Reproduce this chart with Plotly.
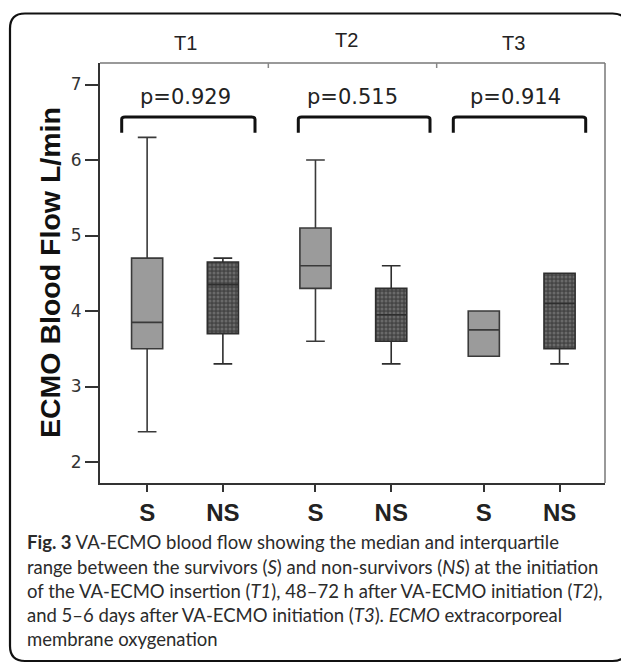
import plotly.graph_objects as go

# ---------------- data ----------------
time_points = ["T1", "T2", "T3"]
groups = ["S", "NS"]
p_values = ["p=0.929", "p=0.515", "p=0.914"]

# survivors (S)
s_low = [2.4, 3.6, 3.4]
s_q1 = [3.5, 4.3, 3.4]
s_median = [3.85, 4.6, 3.75]
s_q3 = [4.7, 5.1, 4.0]
s_high = [6.3, 6.0, 4.0]

# non-survivors (NS)
ns_low = [3.3, 3.3, 3.3]
ns_q1 = [3.7, 3.6, 3.5]
ns_median = [4.35, 3.95, 4.1]
ns_q3 = [4.65, 4.3, 4.5]
ns_high = [4.7, 4.6, 4.5]

y_ticks = [2, 3, 4, 5, 6, 7]

caption_lines = [
    "<b>Fig. 3</b> VA-ECMO blood flow showing the median and interquartile",
    "range between the survivors (<i>S</i>) and non-survivors (<i>NS</i>) at the initiation",
    "of the VA-ECMO insertion (<i>T1</i>), 48–72 h after VA-ECMO initiation (<i>T2</i>),",
    "and 5–6 days after VA-ECMO initiation (<i>T3</i>). <i>ECMO</i> extracorporeal",
    "membrane oxygenation",
]

# ---------------- layout constants ----------------
PAGE_OFF = 8                             # default body margin of the html page
W, H = 629 - PAGE_OFF, 664 - PAGE_OFF
L, R, T, B = 100, 605, 63, 483          # plot area in page pixels
YMIN, YMAX = 1.722, 7.285
S_OFF, NS_OFF = 0.28, 0.73              # position inside each cluster
BOX_W = 0.185


def px_x(px):
    return (px - L) / (R - L)


def px_y(py):
    return (B - py) / (B - T)


s_pos = [i + S_OFF for i in range(len(time_points))]
ns_pos = [i + NS_OFF for i in range(len(time_points))]

fig = go.Figure()

# patterned fill for NS boxes (drawn beneath the box outlines)
fig.add_trace(go.Bar(
    x=ns_pos,
    y=[h - l for h, l in zip(ns_q3, ns_q1)],
    base=ns_q1,
    width=BOX_W,
    marker=dict(color="#4a4a4a",
                pattern=dict(shape=".", fgcolor="#8f8f8f", bgcolor="#454545",
                             size=4, solidity=0.45),
                line=dict(width=0)),
    showlegend=False, hoverinfo="skip",
))

fig.add_trace(go.Box(
    x=s_pos, q1=s_q1, median=s_median, q3=s_q3,
    lowerfence=s_low, upperfence=s_high,
    width=BOX_W, whiskerwidth=0.6,
    fillcolor="#9b9b9b", line=dict(color="#3a3a3a", width=1.6),
    boxpoints=False, showlegend=False, name="S",
))
fig.add_trace(go.Box(
    x=ns_pos, q1=ns_q1, median=ns_median, q3=ns_q3,
    lowerfence=ns_low, upperfence=ns_high,
    width=BOX_W, whiskerwidth=0.6,
    fillcolor="rgba(0,0,0,0)", line=dict(color="#2e2e2e", width=1.6),
    boxpoints=False, showlegend=False, name="NS",
))

shapes = []
annotations = []

# brackets over each time point (hand-placed spans, in pixels)
bracket_px = [(121.7, 255.0), (298.3, 430.0), (453.3, 585.7)]
b_top, b_end = 6.57, 6.36
for (a, b) in bracket_px:
    xa, xb = px_x(a) * 3, px_x(b) * 3
    shapes.append(dict(
        type="path", xref="x", yref="y",
        path=f"M {xa},{b_end} L {xa},{b_top - 0.03} Q {xa},{b_top} {xa + 0.02},{b_top} "
             f"L {xb - 0.02},{b_top} Q {xb},{b_top} {xb},{b_top - 0.03} L {xb},{b_end}",
        line=dict(color="#111111", width=3),
    ))

# p-value labels
p_x_px = [185, 352, 515]
for txt, xp in zip(p_values, p_x_px):
    annotations.append(dict(
        x=px_x(xp), y=px_y(97), xref="paper", yref="paper",
        text=txt, showarrow=False, xanchor="center", yanchor="middle",
        font=dict(family="DejaVu Sans", size=21, color="#222222"),
    ))

# time point labels above the plot
t_px = [(185, 43), (346, 40), (513, 43)]
for txt, (xp, yp) in zip(time_points, t_px):
    annotations.append(dict(
        x=px_x(xp), y=px_y(yp), xref="paper", yref="paper",
        text=txt, showarrow=False, xanchor="center", yanchor="middle",
        font=dict(family="Liberation Sans, Arial", size=20, color="#222222"),
    ))

# y axis title
annotations.append(dict(
    x=px_x(50), y=px_y(273), xref="paper", yref="paper",
    text="<b>ECMO Blood Flow L/min</b>", textangle=-90, showarrow=False,
    xanchor="center", yanchor="middle",
    font=dict(family="Liberation Sans, Arial", size=28.5, color="#111111"),
))

# caption
cap_y = [541.5, 566.5, 591, 615, 639]
for txt, yp in zip(caption_lines, cap_y):
    annotations.append(dict(
        x=px_x(25), y=px_y(yp), xref="paper", yref="paper",
        text=txt, showarrow=False, xanchor="left", yanchor="middle",
        font=dict(family="Lato, Open Sans, sans-serif", size=18.5, color="#2b2b2b"),
    ))

# top / right plot borders (lighter)
shapes.append(dict(type="line", xref="paper", yref="paper", x0=0, x1=1, y0=1, y1=1,
                   line=dict(color="#777777", width=1.5)))
shapes.append(dict(type="line", xref="paper", yref="paper", x0=1, x1=1, y0=0, y1=1,
                   line=dict(color="#777777", width=1.5)))
# cluster separator marks on top border
for k in (1, 2):
    shapes.append(dict(type="line", xref="x", yref="paper", x0=k, x1=k,
                       y0=1, y1=1 - 5 / (B - T), line=dict(color="#888888", width=1.5)))

# outer rounded frame
fx0, fx1 = px_x(10), px_x(627.5)
fy0, fy1 = px_y(661), px_y(13.5)
rx, ry = 15 / (R - L), 15 / (B - T)
frame = (f"M {fx0 + rx},{fy1} L {fx1 - rx},{fy1} Q {fx1},{fy1} {fx1},{fy1 - ry} "
         f"L {fx1},{fy0 + ry} Q {fx1},{fy0} {fx1 - rx},{fy0} "
         f"L {fx0 + rx},{fy0} Q {fx0},{fy0} {fx0},{fy0 + ry} "
         f"L {fx0},{fy1 - ry} Q {fx0},{fy1} {fx0 + rx},{fy1} Z")
shapes.append(dict(type="path", xref="paper", yref="paper", path=frame,
                   line=dict(color="#111111", width=2.2)))

tick_pos, tick_txt = [], []
for i in range(len(time_points)):
    tick_pos += [s_pos[i], ns_pos[i]]
    tick_txt += groups

fig.update_layout(
    width=W, height=H,
    margin=dict(l=L - PAGE_OFF, r=W - (R - PAGE_OFF), t=T - PAGE_OFF,
                b=H - (B - PAGE_OFF), pad=0),
    paper_bgcolor="white", plot_bgcolor="white",
    showlegend=False,
    shapes=shapes, annotations=annotations,
    xaxis=dict(range=[0, 3], tickvals=tick_pos, ticktext=tick_txt,
               ticks="outside", ticklen=7, tickwidth=2, tickcolor="#333333",
               tickfont=dict(family="Liberation Sans, Arial", size=24, color="#222222",
                             weight="bold"),
               showgrid=False, zeroline=False, showline=True,
               linecolor="#333333", linewidth=2, fixedrange=True),
    yaxis=dict(range=[YMIN, YMAX], tickvals=y_ticks,
               ticks="outside", ticklen=13, tickwidth=1.5, tickcolor="#333333",
               tickfont=dict(family="DejaVu Sans", size=17, color="#333333"),
               showgrid=False, zeroline=False, showline=True,
               linecolor="#333333", linewidth=2, fixedrange=True),
)

fig.write_html("out.html")
